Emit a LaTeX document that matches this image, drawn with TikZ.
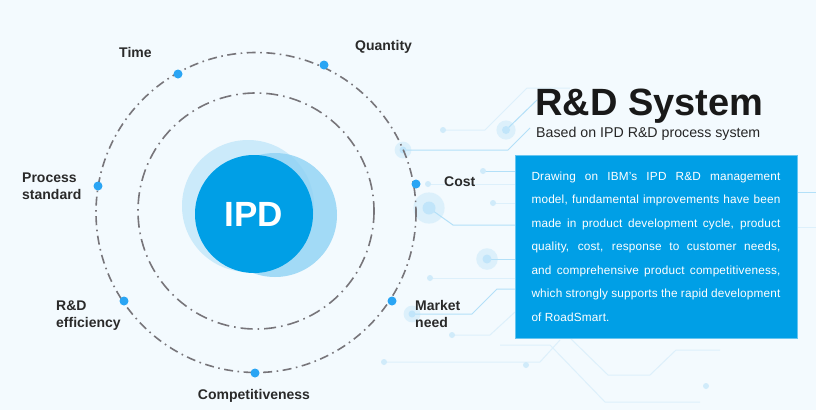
\documentclass[tikz,border=0pt]{standalone}
\usepackage{fontspec}
\setmainfont{Liberation Sans}
\usetikzlibrary{positioning}

\definecolor{bgblue}{HTML}{F3FAFE}
\definecolor{ipdblue}{HTML}{009FE6}
\definecolor{dotblue}{HTML}{2AA5F4}
\definecolor{ringgray}{HTML}{77757A}
\definecolor{paleblue}{HTML}{CBEAFA}
\definecolor{midblue}{HTML}{8ED2F4}
\definecolor{tracecol}{HTML}{B3E0F8}
\definecolor{faintcol}{HTML}{DDF0FB}
\definecolor{labelgray}{HTML}{2A2A2A}

\begin{document}
\begin{tikzpicture}[
        x=1pt, y=-1pt,
        ring/.style={draw=ringgray, line width=1.6pt,
            dash pattern=on 9pt off 4.5pt on 1.6pt off 4.5pt},
        innerring/.style={ring, dash pattern=on 12pt off 5pt on 1.6pt off 5pt},
        marker/.style={circle, fill=dotblue, inner sep=0pt, minimum size=9pt},
        lbl/.style={anchor=base west, inner sep=0pt, align=left,
            text=labelgray, font=\fontsize{14}{17}\selectfont\bfseries},
        trace/.style={draw=tracecol, line width=1pt},
        faint/.style={draw=faintcol, line width=1pt},
        halo/.style={fill=tracecol, opacity=0.35},
        pad/.style={fill=tracecol!80!dotblue!60}
    ]
        % background
        \fill[bgblue] (0,0) rectangle (816,410);
        \useasboundingbox (0,0) rectangle (816,410);

        % circuit traces
        \draw[faint] (443,130) -- (485,130) -- (527,88) -- (570,88);
        \draw[faint] (428,184) -- (515,184);
        \draw[faint] (493,203) -- (515,203);
        \draw[faint] (430,278) -- (515,278);
        \draw[faint] (452,335) -- (490,335) -- (515,312);
        \draw[faint] (384,362) -- (540,362) -- (560,340);
        \draw[faint] (797,227) -- (816,227);
        \draw[faint] (500,345) -- (550,345) -- (605,402) -- (700,402);
        \draw[faint] (570,338) -- (608,375) -- (650,375) -- (676,350) -- (720,350);
        \draw[trace] (403,150) -- (508,150) -- (530,128);
        \draw[trace] (506,130) -- (537,100);
        \draw[trace] (483,171) -- (515,171);
        \draw[trace] (429,208) -- (453,225) -- (515,225);
        \draw[trace] (487,259) -- (515,259);
        \draw[trace] (412,314) -- (472,314) -- (497,289) -- (515,289);
        \draw[trace] (797,192) -- (816,192);
        \foreach \x/\y/\r in {403/150/3.5, 506/130/4, 429/208/6.5, 487/259/4.5, 412/314/3.5}{
            \fill[halo] (\x,\y) circle (2.4*\r);
            \fill[pad] (\x,\y) circle (\r);
        }
        \foreach \x/\y in {443/130, 483/171, 428/184, 493/203, 430/278, 452/335, 526/365, 706/386, 384/362}
            \fill[faintcol!70!tracecol] (\x,\y) circle (3);

        % rings
        \draw[ring] (256,212.5) circle (160);
        \draw[innerring] (256,211) circle (118);

        % IPD core
        \fill[paleblue] (248,206) circle (66);
        \fill[midblue, opacity=0.8] (275,215) circle (62);
        \node[circle, fill=ipdblue, minimum size=118pt, inner sep=0pt,
              text=white, font=\fontsize{35}{35}\selectfont\bfseries] (ipd) at (254,214) {IPD};

        % markers on the outer ring
        \node[marker] (time) at (178,74) {};
        \node[marker] (quantity) at (324,65) {};
        \node[marker] (cost) at (416,184) {};
        \node[marker] (market) at (392,301) {};
        \node[marker] (compet) at (255,373) {};
        \node[marker] (rnd) at (124,301) {};
        \node[marker] (process) at (98,186) {};

        % labels (two-line ones sit on their last baseline)
        \node[lbl] (timelbl) at (119,57) {Time};
        \node[lbl] (quantitylbl) at (355,50) {Quantity};
        \node[lbl] (costlbl) at (444,186) {Cost};
        \node[lbl] (marketlbl) at (415,327) {Market\\need};
        \node[lbl, anchor=base] (competlbl) at (254,399) {Competitiveness};
        \node[lbl] (rndlbl) at (56,327) {R\&D\\efficiency};
        \node[lbl] (processlbl) at (22,199) {Process\\standard};

        % title block
        \node[anchor=base west, inner sep=0pt, text=black!90,
              font=\fontsize{38}{40}\selectfont\bfseries] (title) at (535,115) {R\&D System};
        \node[anchor=base west, inner sep=0pt, text=black!85,
              font=\fontsize{14.2}{16}\selectfont] (subtitle) at (536,137) {Based on IPD R\&D process system};
        \node[fill=ipdblue, draw=ipdblue!60!white, line width=0.8pt,
              minimum width=282pt, minimum height=183pt, text width=249pt,
              align=justify, text=white,
              font=\fontsize{11.8}{23.5}\selectfont\addfontfeature{LetterSpace=1.5}]
              (desc) at (656,246.5)
              {Drawing on IBM's IPD R\&D management\linebreak
               model, fundamental improvements have been\linebreak
               made in product development cycle, product\linebreak
               quality, cost, response to customer needs,\linebreak
               and comprehensive product competitiveness,\linebreak
               which strongly supports the rapid development\linebreak
               of RoadSmart.};
    \end{tikzpicture}
\end{document}
